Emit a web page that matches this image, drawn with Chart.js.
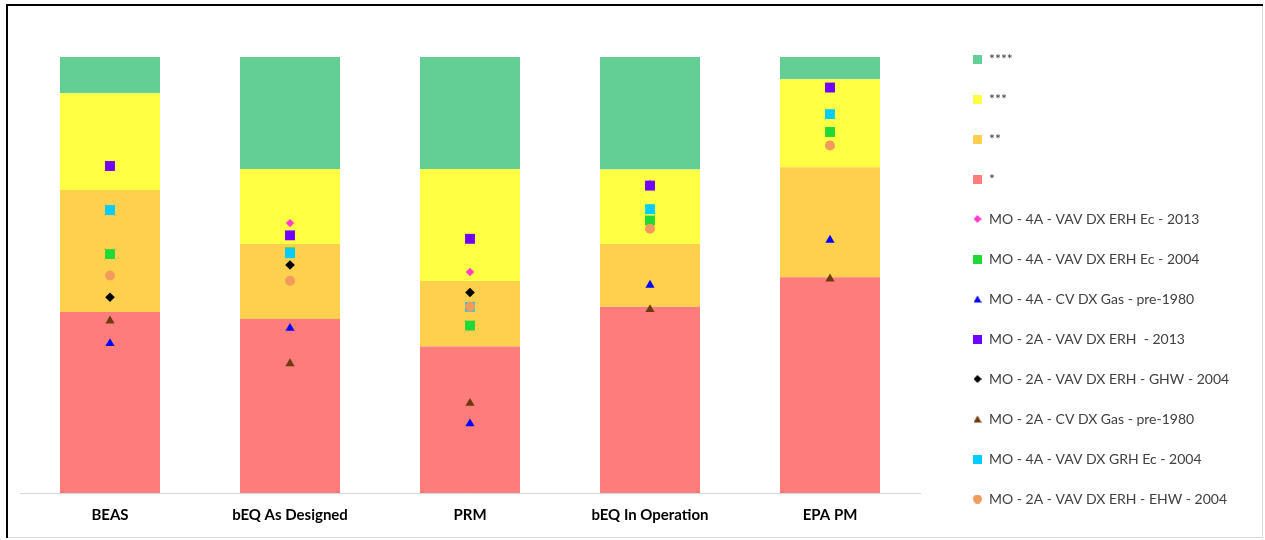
<!DOCTYPE html>
<html>
<head>
<meta charset="utf-8">
<script src="https://cdn.jsdelivr.net/npm/chart.js@4/dist/chart.umd.min.js"></script>
<style>
  html, body { margin: 0; padding: 0; background: #fff; }
  #wrap { position: absolute; left: 0; top: 0; width: 1265px; height: 540px; }
</style>
</head>
<body>
<div id="wrap"><canvas id="c" width="1265" height="540"></canvas></div>
<script>
// Buildings / rating methods along the x axis
const categories = ['BEAS', 'bEQ As Designed', 'PRM', 'bEQ In Operation', 'EPA PM'];

// Rating bands (share of the scale, bottom to top)
const ratingNames = ['*', '**', '***', '****'];
const oneStar   = [41.5, 39.9, 33.6, 42.7, 49.5];
const twoStar   = [28.0, 17.2, 15.0, 14.4, 25.2];
const threeStar = [22.2, 17.2, 25.7, 17.1, 20.2];
const fourStar  = [8.3, 25.7, 25.7, 25.8, 5.1];

// Modelled buildings placed on each scale
const seriesNames = [
  'MO - 4A - VAV DX ERH Ec - 2013',
  'MO - 4A - VAV DX ERH Ec - 2004',
  'MO - 4A - CV DX Gas - pre-1980',
  'MO - 2A - VAV DX ERH  - 2013',
  'MO - 2A - VAV DX ERH - GHW - 2004',
  'MO - 2A - CV DX Gas - pre-1980',
  'MO - 4A - VAV DX GRH Ec - 2004',
  'MO - 2A - VAV DX ERH - EHW - 2004'
];
const vav4aEc2013   = [null, 61.9, 50.7, 70.9, null];
const vav4aEc2004   = [54.8, 55.2, 38.4, 62.5, 82.8];
const cv4aPre1980   = [34.3, 37.8, 15.9, 47.7, 58.0];
const vav2a2013     = [75.0, 59.1, 58.3, 70.5, 93.0];
const vav2aGhw2004  = [44.9, 52.3, 46.0, null, null];
const cv2aPre1980   = [39.5, 29.7, 20.6, 42.1, 49.1];
const vav4aGrh2004  = [64.9, 55.0, 42.7, 65.1, 86.9];
const vav2aEhw2004  = [49.9, 48.7, 42.7, 60.6, 79.7];

const seriesValues = [vav4aEc2013, vav4aEc2004, cv4aPre1980, vav2a2013,
                      vav2aGhw2004, cv2aPre1980, vav4aGrh2004, vav2aEhw2004];

const bandColors = ['#FF7C7C', '#FFD04E', '#FFFF44', '#64CF94'];
const bandValues = [oneStar, twoStar, threeStar, fourStar];

const markerStyle = [
  { shape: 'diamond',  color: '#FF3CCB', r: 4.2, legend: 8 },
  { shape: 'square',   color: '#20D836', r: 7.0, legend: 9 },
  { shape: 'triangle', color: '#0000FF', r: 5.3, legend: 8 },
  { shape: 'square',   color: '#7000FF', r: 7.0, legend: 9 },
  { shape: 'diamond',  color: '#000000', r: 4.8, legend: 8 },
  { shape: 'triangle', color: '#6E3A0C', r: 5.3, legend: 8 },
  { shape: 'square',   color: '#00CCFF', r: 7.0, legend: 9 },
  { shape: 'circle',   color: '#F39A5C', r: 5.0, legend: 9 }
];
const chartStyle = { square: 'rect', diamond: 'rectRot', triangle: 'triangle', circle: 'circle' };

// Small legend swatches, drawn at a fixed pixel size
function swatch(shape, color, size) {
  const cv = document.createElement('canvas');
  cv.width = size; cv.height = size;
  const g = cv.getContext('2d');
  g.fillStyle = color;
  g.beginPath();
  const h = size / 2;
  if (shape === 'square') {
    g.rect(0, 0, size, size);
  } else if (shape === 'diamond') {
    g.moveTo(h, 0); g.lineTo(size, h); g.lineTo(h, size); g.lineTo(0, h); g.closePath();
  } else if (shape === 'triangle') {
    g.moveTo(h, 0.5); g.lineTo(size, size - 0.5); g.lineTo(0, size - 0.5); g.closePath();
  } else {
    g.arc(h, h, h, 0, Math.PI * 2);
  }
  g.fill();
  return cv;
}

const legendSwatches = [];
bandColors.forEach(c => legendSwatches.push(swatch('square', c, 9)));
markerStyle.forEach(m => legendSwatches.push(swatch(m.shape, m.color, m.legend)));

const datasets = [];
ratingNames.forEach((name, i) => {
  datasets.push({
    type: 'bar',
    label: name,
    data: bandValues[i],
    backgroundColor: bandColors[i],
    borderWidth: 0,
    stack: 'rating',
    order: 100,
    categoryPercentage: 1.0,
    barPercentage: 0.5556
  });
});
seriesNames.forEach((name, i) => {
  const m = markerStyle[i];
  datasets.push({
    type: 'line',
    label: name,
    data: seriesValues[i],
    showLine: false,
    stack: 'point' + i,
    order: -i,
    pointStyle: chartStyle[m.shape],
    pointRadius: m.r,
    pointHoverRadius: m.r,
    pointBackgroundColor: m.color,
    pointBorderColor: m.color,
    pointBorderWidth: 0,
    backgroundColor: m.color,
    borderColor: m.color
  });
});

const legendRank = i => (i < 4 ? 3 - i : i);

const framePlugin = {
  id: 'frame',
  beforeInit(chart) {
    const fit = chart.legend.fit;
    chart.legend.fit = function () {
      fit.call(this);
      this.width = 318;
    };
  },
  beforeDraw(chart) {
    const ctx = chart.ctx;
    ctx.save();
    ctx.fillStyle = '#ffffff';
    ctx.fillRect(0, 0, chart.width, chart.height);
    ctx.fillStyle = '#d9d9d9';
    ctx.fillRect(1262, 4, 1, 534);
    ctx.fillRect(6, 537, 1257, 1);
    ctx.fillStyle = '#000000';
    ctx.fillRect(6, 4, 2, 534);
    ctx.fillRect(6, 4, 1257, 2);
    ctx.restore();
  }
};

new Chart(document.getElementById('c'), {
  data: { labels: categories, datasets },
  options: {
    responsive: false,
    animation: false,
    layout: { padding: { top: 0, bottom: 8, left: 20, right: 0 } },
    scales: {
      x: {
        stacked: true,
        grid: { display: false, drawTicks: false },
        border: { display: true, color: '#d9d9d9', width: 1 },
        ticks: {
          padding: 13,
          color: '#000000',
          font: { family: 'Lato', size: 15, weight: 'bold' }
        },
        afterFit(s) { s.height = 39; }
      },
      topSpace: {
        type: 'category',
        position: 'top',
        display: true,
        grid: { display: false, drawTicks: false },
        border: { display: false },
        ticks: { display: false },
        afterFit(s) { s.height = 57; }
      },
      y: {
        stacked: true,
        display: false,
        min: 0,
        max: 100
      },
      gap: {
        type: 'linear',
        position: 'right',
        display: true,
        grid: { display: false },
        border: { display: false },
        ticks: { display: false },
        afterFit(s) { s.width = 27; }
      }
    },
    plugins: {
      tooltip: { enabled: false },
      legend: {
        position: 'right',
        align: 'end',
        labels: {
          usePointStyle: true,
          boxWidth: 9,
          boxHeight: 9,
          padding: 26,
          color: '#404040',
          font: { family: 'Lato', size: 14 },
          sort: (a, b) => legendRank(a.datasetIndex) - legendRank(b.datasetIndex),
          generateLabels(chart) {
            const items = Chart.defaults.plugins.legend.labels.generateLabels(chart);
            items.forEach(it => { it.pointStyle = legendSwatches[it.datasetIndex]; });
            return items;
          }
        }
      }
    }
  },
  plugins: [framePlugin]
});
</script>
</body>
</html>
